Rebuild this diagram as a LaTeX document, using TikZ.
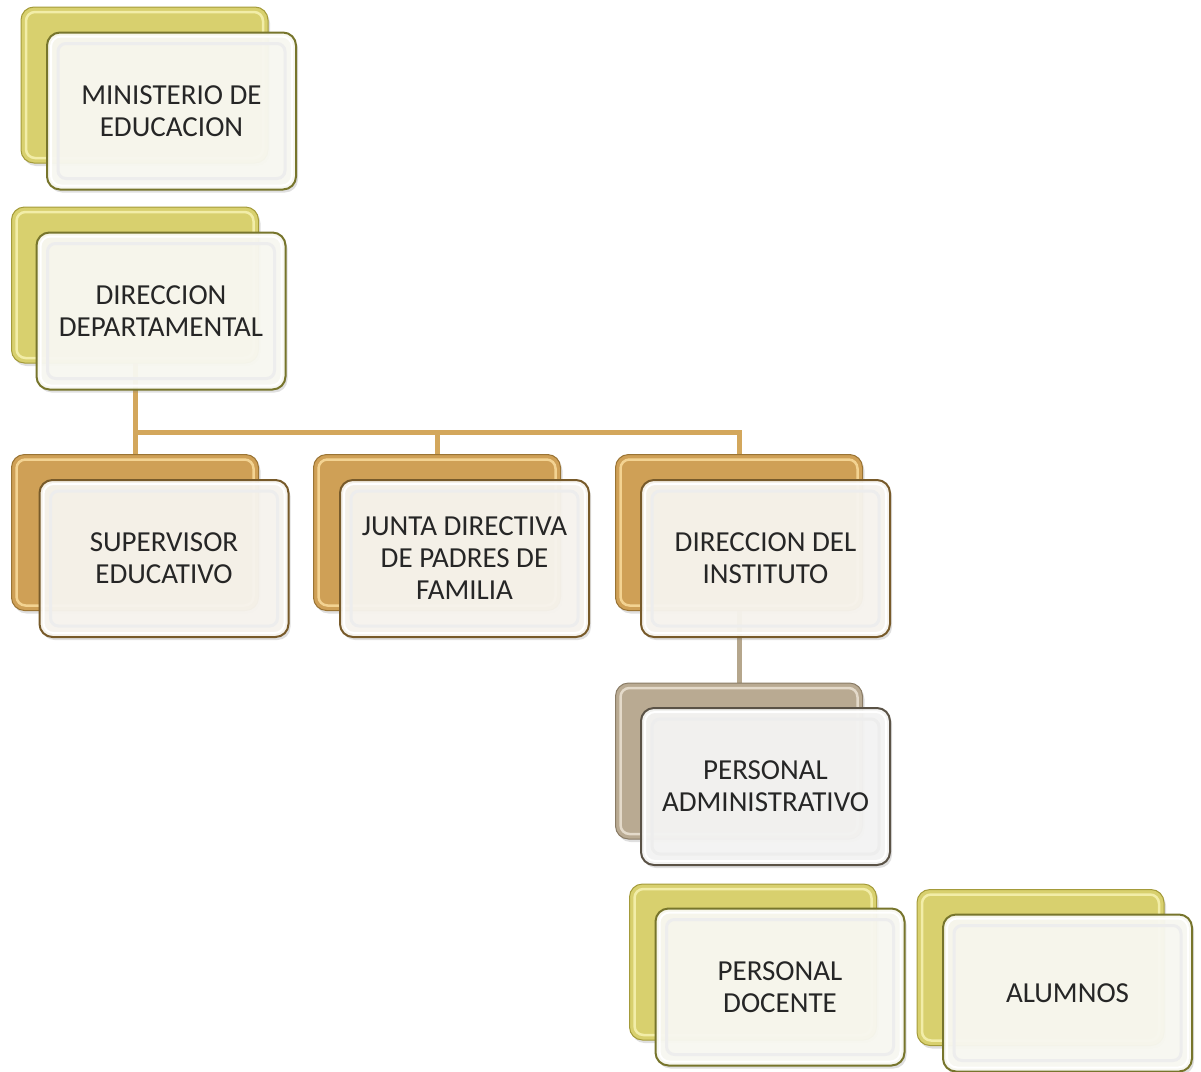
\documentclass[tikz,border=0pt]{standalone}
\usepackage{fontspec}
\setmainfont{Carlito}
\usetikzlibrary{shadows,backgrounds}
\definecolor{yB}{HTML}{D8D06E}
\definecolor{yBd}{HTML}{A49B3A}
\definecolor{yBl}{HTML}{F2EDA8}
\definecolor{yF}{HTML}{F9F9F2}
\definecolor{yFd}{HTML}{77752C}
\definecolor{gB}{HTML}{CFA056}
\definecolor{gBd}{HTML}{9A7434}
\definecolor{gBl}{HTML}{F3D392}
\definecolor{gF}{HTML}{F8F5EF}
\definecolor{gFd}{HTML}{775A2A}
\definecolor{aB}{HTML}{B9AA92}
\definecolor{aBd}{HTML}{8A7C66}
\definecolor{aBl}{HTML}{E4DACA}
\definecolor{aF}{HTML}{F5F5F4}
\definecolor{aFd}{HTML}{5A5246}
\definecolor{txt}{HTML}{262626}
\definecolor{goldln}{HTML}{D3A75C}
\definecolor{grayln}{HTML}{B5A68C}
\tikzset{
  backbox/.style={rounded corners=13pt, minimum width=247pt, minimum height=156pt,
    inner sep=0pt, line width=1pt,
    drop shadow={shadow xshift=2pt, shadow yshift=-3pt, opacity=0.25}},
  backhl/.style={path picture={\draw[#1, line width=2.5pt, rounded corners=9pt]
      ([shift={(5pt,-5pt)}]path picture bounding box.north west) rectangle
      ([shift={(-5pt,5pt)}]path picture bounding box.south east);}},
  bY/.style={backbox, fill=yB, draw=yBd, backhl=yBl},
  bG/.style={backbox, fill=gB, draw=gBd, backhl=gBl},
  bA/.style={backbox, fill=aB, draw=aBd, backhl=aBl},
  frontbox/.style={rounded corners=13pt, minimum width=249pt, minimum height=157pt,
    inner sep=0pt, align=center, text=txt, font=\fontsize{29pt}{32pt}\selectfont,
    line width=2pt, fill opacity=0.95, text opacity=1,
    drop shadow={shadow xshift=2pt, shadow yshift=-3pt, opacity=0.25},
    path picture={
      \draw[white, line width=2pt, rounded corners=10pt]
        ([shift={(4pt,-4pt)}]path picture bounding box.north west) rectangle
        ([shift={(-4pt,4pt)}]path picture bounding box.south east);
      \draw[black!7, line width=3pt, rounded corners=8pt]
        ([shift={(11pt,-11pt)}]path picture bounding box.north west) rectangle
        ([shift={(-11pt,11pt)}]path picture bounding box.south east);}},
  fY/.style={frontbox, fill=yF, draw=yFd},
  fG/.style={frontbox, fill=gF, draw=gFd},
  fA/.style={frontbox, fill=aF, draw=aFd},
  goldline/.style={draw=goldln, line width=5pt},
  grayline/.style={draw=grayln, line width=5pt}
}
\begin{document}
\begin{tikzpicture}[x=1pt,y=-1pt]
\useasboundingbox (0,0) rectangle (1201,1071);
% back boxes
\node[bY] (minb) at (144.5,85) {};
\node[bY] (depb) at (135,285) {};
\node[bG] (supb) at (135,532.5) {};
\node[bG] (junb) at (437,532.5) {};
\node[bG] (dirb) at (739,532.5) {};
\node[bA] (admb) at (739,761) {};
\node[bY] (docb) at (753,962) {};
\node[bY] (alub) at (1040.5,967.5) {};
% front boxes
\node[fY] (min) at (171.5,111) {MINISTERIO DE\\EDUCACION};
\node[fY] (dep) at (161,311) {DIRECCION\\DEPARTAMENTAL};
\node[fG] (sup) at (164,558.5) {SUPERVISOR\\EDUCATIVO};
\node[fG] (jun) at (464.5,558.5) {JUNTA DIRECTIVA\\DE PADRES DE\\FAMILIA};
\node[fG] (dir) at (765.5,558.5) {DIRECCION DEL\\INSTITUTO};
\node[fA] (adm) at (765.5,786.5) {PERSONAL\\ADMINISTRATIVO};
\node[fY] (doc) at (780,987) {PERSONAL\\DOCENTE};
\node[fY] (alu) at (1067.5,993) {ALUMNOS};
% connectors, behind the boxes
\coordinate (bus) at (135,432);
\begin{pgfonlayer}{background}
\draw[goldline] (depb.center) -- (bus) -| (dirb.center);
\draw[goldline] (supb.center) -- (bus);
\draw[goldline] (junb.center) -- (junb.center |- bus);
\draw[grayline] (dirb.center) -- (admb.center);
\end{pgfonlayer}
\end{tikzpicture}
\end{document}
